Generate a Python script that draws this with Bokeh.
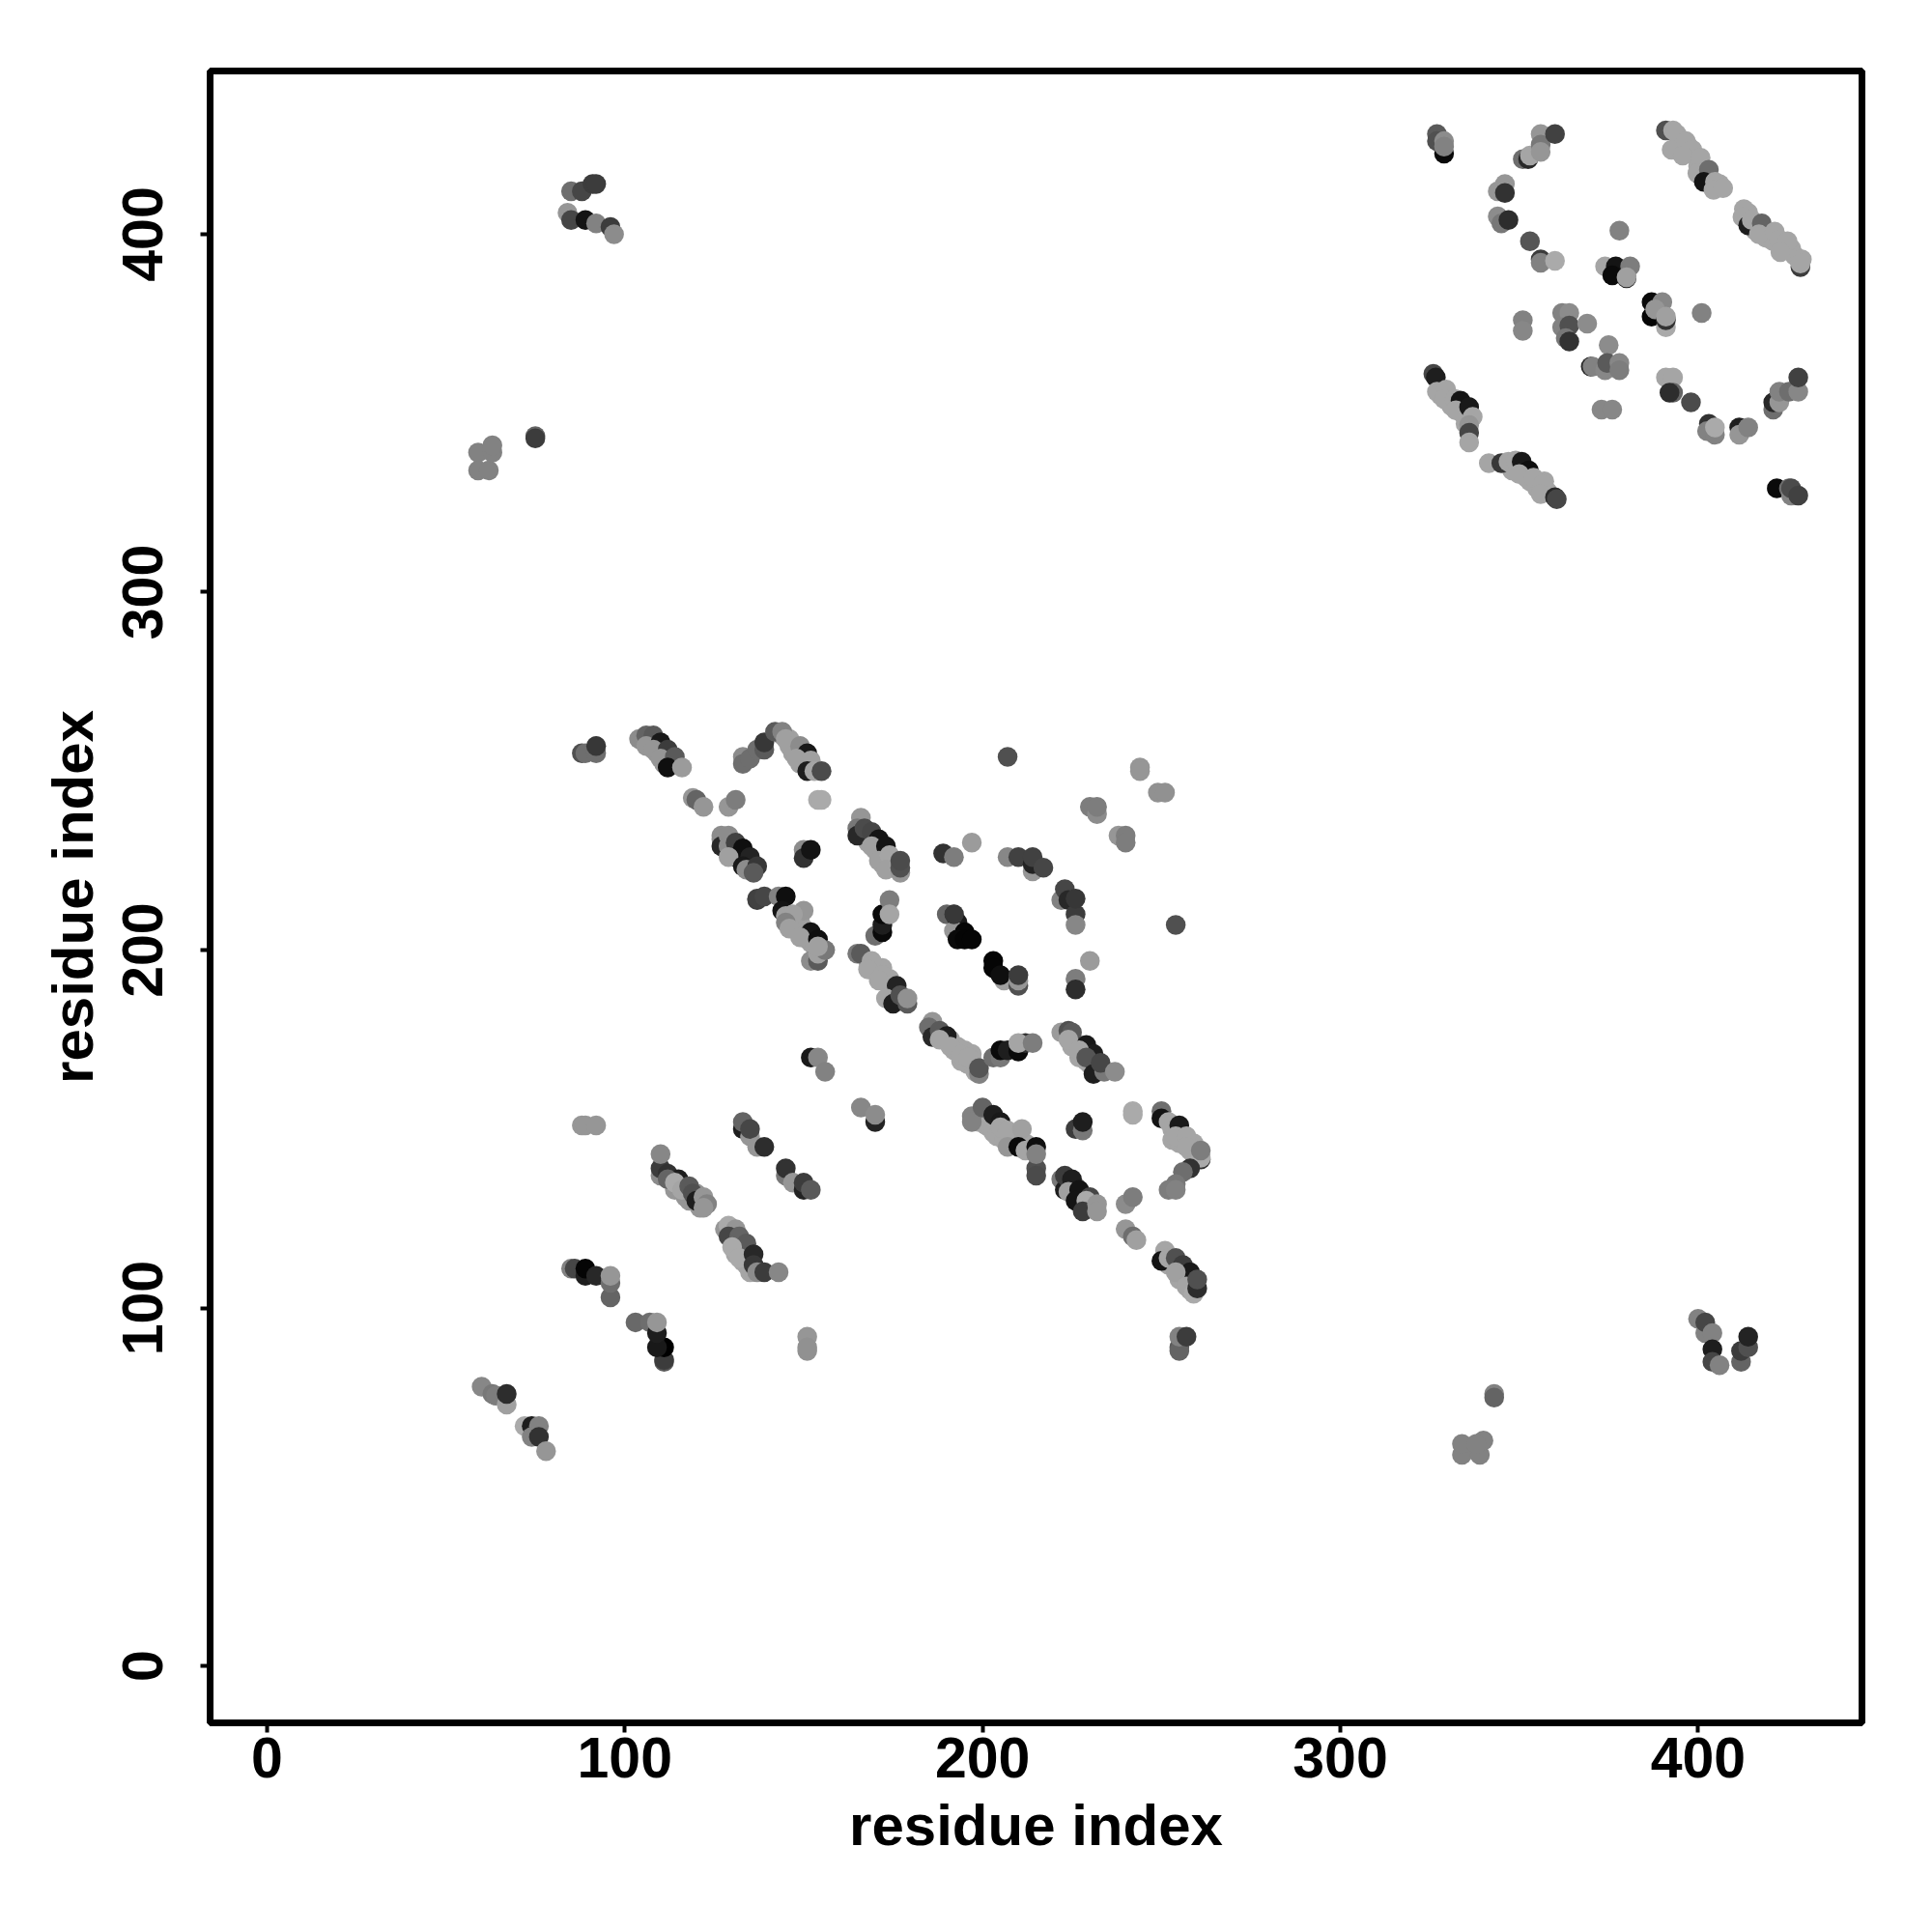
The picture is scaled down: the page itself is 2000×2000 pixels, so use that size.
from bokeh.plotting import figure
from bokeh.models import ColumnDataSource, FixedTicker
from bokeh.embed import file_html
from bokeh.resources import INLINE

x_tick_values = [0, 100, 200, 300, 400]
y_tick_values = [0, 100, 200, 300, 400]
x_title = "residue index"
y_title = "residue index"

# light contacts that form the solid part of the diagonals (drawn first)
x_fill = [189,191,192,193,195,196,197,198,194, 168,169,170,172,173,174,175,174,176,177,
          146,147,148,149,149,150,151,152,153, 167,168,170,171,172,172,174,175,176,
          144,146,147,148,150,149,151,152, 107,109,111,111,113, 129,131,132,134,135,
          199,201,202,203,204,206,208,209,208,210,212, 225,226,227,228,229,230,231,
          253,253,255,255,256,258,259,259, 226,228,229,230,225, 252,254,255,256,257,258,
          114,115,117,118,120,121, 130,131,131,133,133,134,135,
          328,330,331,333,334,335,335, 348,351,352,353,355,357,358,357,
          394,396,397,399,400,401,402,403,405,406,
          414,414,416,416,418,420,419,421,424,424,426,427,429]
y_fill = [176,175,172,173,172,168,171,166,169, 197,195,194,195,191,192,189,187,188,186,
          209,207,206,208,205,206,203,202,201, 232,230,228,228,226,224,224,223,224,
          260,259,255,256,255,252,251,252, 258,255,254,252,252, 231,228,226,225,223,
          152,151,151,149,148,147,146,148,149,147,146, 173,174,170,171,169,168,167,
          150,147,149,146,146,144,143,146, 134,130,128,128,135, 112,112,108,108,108,105,
          133,134,131,130,132,128, 120,119,115,116,113,112,110,
          355,355,352,351,350,349,347, 334,335,332,331,329,329,328,331,
          428,424,425,422,419,418,416,415,413,414,
          406,403,403,401,401,400,399,398,397,396,396,394,393]
g_fill = [165,165,165,165,165,165,165,165,165, 165,165,165,165,165,165,165,165,165,165,
          160,160,160,160,160,160,160,160,160, 160,160,160,160,160,160,160,160,160,
          160,160,160,160,160,160,160,160, 150,150,150,150,150, 140,140,140,140,140,
          165,165,165,165,165,165,165,165,165,165,165, 165,165,165,165,165,165,165,
          165,165,165,165,165,165,165,165, 150,150,150,150,150, 165,165,165,165,165,165,
          150,150,150,150,150,150, 165,165,165,165,165,165,165,
          165,165,165,165,165,165,165, 165,165,165,165,165,165,165,165,
          165,165,165,165,165,165,165,165,165,165,
          165,165,165,165,165,165,165,165,165,165,165,165,165]

# lower region
x_low = [60,63,64,67,67, 72,74,76,74,76,78, 85,86,89,89,92,96,96,96, 103,107,111,111,111,109,109,109,
         88,89,92, 133,133,135,135,137,139, 145,145,147,150,150,152, 170,166,170,
         110,110,110,112,115,112,114,116,118,119,120,122,123,122,
         128,129,131,129,132,134,130,132,136,136,137,139,143, 151,151,151]
y_low = [78,76,75.5,73,76, 67,67,67,64,64,60, 111,111,109,111,109,103,107,109, 96,96,85,85.5,89,89,93,96,
         151,151,151, 150,152,148,150,145,145, 137,139,135,133,135,133, 152,156,154,
         137,139,143,137.5,136,136,135,133,134,132,130,131,129,128,
         122,123,122,120,120,118,117,114,115,112,110,110,110, 92,88,89]
g_low = [135,120,125,160,45, 170,30,130,130,50,150, 130,70,30,5,40,100,110,150, 105,110,90,60,0,25,30,150,
         150,150,150, 30,100,150,70,150,45, 120,50,150,35,60,90, 35,135,140,
         140,60,135,50,30,100,170,165,90,80,30,150,130,150,
         150,170,150,70,100,90,170,170,40,55,140,60,135, 150,145,145]

# main diagonal, upper part
x_mid = [88,89,92,92, 104,106,108,106,110,108,112,110,114,112,116, 119,120,122, 129,131,
         133,133,135,137,139,139,142,144,145,146,149,151,148,152,151,153,155, 154,155,
         127,127,127,129,129,131,131,133,129,135,133,134,137,136,
         150,150,152, 166,165,165,167,169,171,169,173,171,174,173,177,177,177,
         137,137,139,143,145, 144,150,145,147,145,146,152,149,154,152,154,154,156,154,
         170,172,172,172,174,174, 165,166,169,168,172,171,176,173,175,177,179,179]
y_mid = [255,255,255,257, 259,260,260,257,258,256,256,253.5,254,251,251, 242.5,242,240, 240,242,
         254,252,253.5,256,256,258,261,261,259,257,257,255,253.5,253,250,250,250, 242,242,
         232,231,229,232,229,230,226,228.4,226,226,223.4,222.5,223.4,221.6,
         228,225.7,228, 237,234,232,234,233,231,229,229,225,226.5,222.5,221.6,223,225,
         214,214.4,215,215,215, 211,211,209.5,210,207.7,206,205,203.6,203,197,197,199,200,201,
         204,205,207,210,214,210, 199,199,197,194.6,193,191.5,190,186.5,185,187.4,185,186.5]
g_mid = [80,110,110,55, 140,100,90,150,25,150,60,150,90,15,155, 150,100,150, 150,125,
         140,110,110,110,90,55,90,130,160,160,140,25,160,160,30,165,75, 170,170,
         140,140,40,140,140,65,20,15,160,35,25,140,55,90,
         140,50,20, 150,120,40,75,70,20,160,20,160,165,160,150,80,75,
         60,65,70,130,15, 20,150,160,160,130,160,20,160,15,140,90,160,120,160,
         110,10,30,10,125,165, 120,90,165,165,165,165,35,165,30,80,90,145]

# main diagonal, lower part and off-diagonal bands
x_diag = [186,185,186,188,190,188,191,194,197,196,199,199, 203,205,205,207,210,212,210,214,
          222,224,225,224,229,231,227,229,231,234,233,237,
          226,226,230, 203,203,206,205,210,210,210,
          190,192,193,192,192,195,193,195,197,
          222,223,224,226,226,226, 207,210,214,214,214,217, 189,192,197, 207,
          230,232,232, 244,244, 249,251, 238,240,240, 254,
          152,154,156,
          197,197,200,203,205,205,207,207,211,210,212,215,215,215,215,
          226,228,228, 242,242,
          250,250,252,255,254,257,257,261,261,261,
          258,256,254,252,254,
          222,223,223,225,224,227,226,230,229,228,232,232,
          240,242,240,242,243,
          251,250,252,254,256,258,254,257,259,260,260,
          255,255,255,257]
y_diag = [180,178.4,175.7,177.5,176,175,173,170.8,169.4,170,165.4,167, 170,170,172,172,171.7,174,174,174,
          177,177.5,177,175,173.5,171,172,170,165.4,166,168.5,166,
          192,189,197, 197,195,191.5,193,190,191.5,193,
          210,210,207.7,205.4,210,205,203,203,203,
          214,217,214,210,214.4,207, 226,226,222,224,226,223, 227,226,230, 254,
          240,238,240, 251,250, 244,244, 232,232,230, 207,
          170,170,166,
          153.6,152,156,154,152,150.5,149.6,145,150,145,144,139,137,145,143,
          150,149.6,152, 155,154,
          155,153,152,151,148,148,145,141.5,142,144,
          139,138,134.6,133,133,
          136,133,137,136,132.5,133,130,131,130,127,129,127,
          129,131,122,120,119,
          116,113.2,114,114,112,110,110,106,104,105.5,108,
          89,88,92,92]
g_diag = [150,110,40,90,30,165,165,165,165,165,130,85, 110,120,10,30,10,50,165,125,
          155,80,90,165,25,30,165,85,30,120,70,140,
          125,45,155, 5,5,160,15,80,150,60,
          100,170,25,150,55,5,10,5,5,
          130,70,40,60,55,135, 135,65,150,35,65,70, 50,125,155, 80,
          125,140,125, 150,150, 145,145, 150,125,125, 80,
          25,135,130,
          130,130,100,30,25,165,165,150,160,10,165,80,75,15,130,
          60,120,30, 170,170,
          110,20,165,25,165,165,165,50,170,125,
          50,110,120,125,130,
          120,30,60,30,160,20,20,70,170,60,150,150,
          140,125,150,110,160,
          165,20,165,80,60,25,160,165,170,45,80,
          90,100,130,60]

# upper left and lower right groups
x_side = [84,85,85,88,89,91,92,92,96,97, 59,59,62,63,63, 75,75,
          400,402,402,404,404,404,406,412,412,414,414, 343,343,
          334,334,339,340,338]
y_side = [406,412,404,412,404,414,403,414,402,400, 339,334,334,339,341, 343.6,343,
          97,93,96,93,88.5,85,84,85,88,89,92, 76,75,
          59,62,59,63,62]
g_side = [150,110,70,70,20,60,130,60,60,140, 130,130,130,130,130, 100,60,
          130,130,70,130,30,70,130,100,60,80,35, 130,100,
          130,130,130,130,130]

# upper right block
x_top = [329,327,327,329,329, 351,352.5,353,356,356,356,360, 346,344,346, 344,345,347, 353, 356,356,360, 378,
         374,377,376,380,381,380, 387,387,390,388,391,391,391, 401,
         362,364,362,364,363,364,369, 351,351, 375, 370,370.5,374,374.6,378,378, 373,376,
         391,393,393,392, 398, 403,402.5,404.7,404.7, 411.5,411.5,414,
         421,421,422.7,422.7,425.4,428,428, 422,425.4,426,426,428,
         326,326.7,327,329.6,329,332,333.6,332.3,336,337,336,336,336,
         341.5,345,347,349,350.7,352.7,350,354,356.6,356,360,360.5,
         391,393,392.6,396.6,398.4,395.7,400.7,399.8,403,401.6,404.7,404.3,407,
         412.8,412.4,414,415,417.8,417,421.4,422.7,425,423,428.6,428.6,428.6]
y_top = [422.5,428,426,426,424.5, 421,421,422,428,425,423,428, 414,412,411.5, 405,403,404, 398, 393,392,392.6, 401,
         391,391,388.5,387.7,391,388, 381,377,381,379,374,376,377, 378,
         378,378,374,374.5,371,370,375, 376,373, 369, 363,363,362,364,364,362, 351,351,
         360,360,355.7,355.7, 353, 347,345,344,346, 346,344,346,
         351,353,353,356,356,356,360, 329,329,327,329,327,
         361,360,356,356.6,354,354,353.5,350.8,351.7,349,346.7,344.5,341.8,
         336,336,336.4,336.8,336.4,334,333,332,330,327.4,326.5,326,
         429,429,423.6,426,423.6,422,421.4,417,418,414.6,414.6,412.4,412.9,
         407,404.8,402.5,404,403,400,400.7,398.5,398,395,390.8,393,391.8]
g_top = [10,90,80,140,130, 110,40,165,150,120,150,65, 150,150,50, 140,120,45, 85, 60,130,170, 130,
         165,20,10,30,125,160, 10,5,135,150,170,50,160, 130,
         130,140,130,80,120,50,140, 130,135, 140, 40,130,135,90,135,125, 135,135,
         165,165,100,45, 75, 50,130,130,170, 30,150,130,
         110,40,150,130,110,135,65, 10,110,130,75,65,
         70,30,165,165,165,165,20,165,25,165,150,70,165,
         165,55,165,165,25,15,165,165,165,165,40,70,
         80,165,165,165,165,165,165,165,110,20,165,165,165,
         165,165,30,165,100,165,165,165,165,165,60,165,165]

xs = x_fill + x_low + x_mid + x_diag + x_side + x_top
ys = y_fill + y_low + y_mid + y_diag + y_side + y_top
gs = g_fill + g_low + g_mid + g_diag + g_side + g_top
n = min(len(xs), len(ys), len(gs))
colors = ["#%02x%02x%02x" % (g, g, g) for g in gs[:n]]
source = ColumnDataSource(dict(x=xs[:n], y=ys[:n], c=colors))

p = figure(width=1992, height=1992, output_backend="svg", toolbar_location=None,
           x_range=(-15.9, 445.8), y_range=(-15.9, 445.6),
           min_border_left=217, min_border_right=65, min_border_top=73, min_border_bottom=209,
           background_fill_color="white")
p.scatter("x", "y", source=source, size=20.5, fill_color="c", line_color=None)

p.grid.visible = False
p.outline_line_color = "black"
p.outline_line_width = 7
p.outline_line_alpha = 1
for ax, ticks, title in ((p.xaxis[0], x_tick_values, x_title), (p.yaxis[0], y_tick_values, y_title)):
    ax.ticker = FixedTicker(ticks=ticks)
    ax.axis_label = title
    ax.axis_line_color = None
    ax.major_tick_line_color = "black"
    ax.major_tick_line_width = 4
    ax.major_tick_in = 0
    ax.major_tick_out = 10
    ax.minor_tick_line_color = None
    ax.major_label_text_font = "Liberation Sans"
    ax.major_label_text_font_style = "bold"
    ax.major_label_text_font_size = "59px"
    ax.major_label_text_color = "black"
    ax.axis_label_text_font = "Liberation Sans"
    ax.axis_label_text_font_style = "bold"
    ax.axis_label_text_font_size = "60px"
    ax.axis_label_text_color = "black"
p.yaxis[0].major_label_orientation = "vertical"
p.xaxis[0].major_label_standoff = 5
p.yaxis[0].major_label_standoff = 39
p.xaxis[0].axis_label_standoff = 13
p.yaxis[0].axis_label_standoff = 16

open("out.html", "w").write(file_html(p, INLINE))
